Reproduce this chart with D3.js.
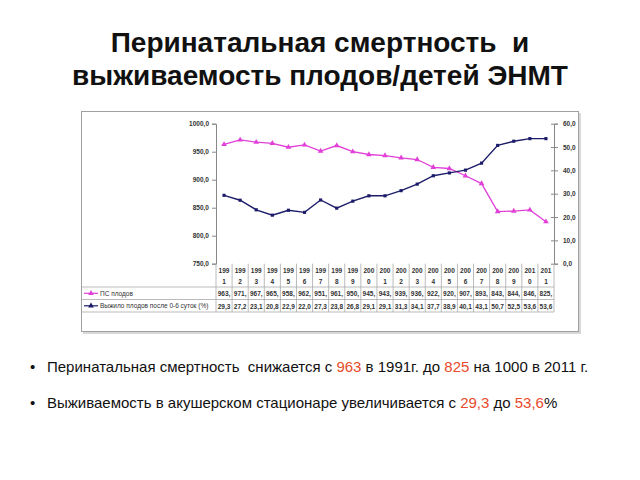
<!DOCTYPE html>
<html><head><meta charset="utf-8">
<script src="https://cdn.jsdelivr.net/npm/d3@7"></script>
<style>body{margin:0;background:#fff}svg{display:block}</style>
</head><body>
<svg id="c" width="640" height="480"></svg>
<script>
const years = ["1991","1992","1993","1994","1995","1996","1997","1998","1999","2000","2001","2002","2003","2004","2005","2006","2007","2008","2009","2010","2011"];
const psValues = [963,971,967,965,958,962,951,961,950,945,943,939,936,922,920,907,893,843,844,846,825];
const survValues = [29.3,27.2,23.1,20.8,22.9,22.0,27.3,23.8,26.8,29.1,29.1,31.3,34.1,37.7,38.9,40.1,43.1,50.7,52.5,53.6,53.6];
const seriesNames = ["ПС плодов","Выжило плодов после 0-6 суток (%)"];
const leftTicks = [750,800,850,900,950,1000];
const rightTicks = [0,10,20,30,40,50,60];
const titleLines = ["Перинатальная смертность  и","выживаемость плодов/детей ЭНМТ"];

const svg = d3.select("#c");
svg.append("rect").attr("width",640).attr("height",480).attr("fill","#fff");
const F = "'Liberation Sans', Arial, sans-serif";

// title
svg.selectAll("text.title").data(titleLines).enter().append("text")
  .attr("x",320).attr("y",(d,i)=>52+i*33).attr("text-anchor","middle").attr("xml:space","preserve")
  .attr("font-family",F).attr("font-weight","bold").attr("font-size",28).attr("fill","#111").text(d=>d);

// chart box
svg.append("rect").attr("x",83).attr("y",113).attr("width",498).attr("height",221).attr("fill","#d8d8d8");
svg.append("rect").attr("x",81.5).attr("y",111.5).attr("width",497).attr("height",220).attr("fill","#fff").attr("stroke","#a0a0a0");

const L = 216, R = 554, T = 123.7, B = 263.7;
const x = d3.scaleBand().domain(years).range([L,R]);
const yL = d3.scaleLinear().domain([750,1000]).range([B,T]);
const yR = d3.scaleLinear().domain([0,60]).range([B,T]);
const fmt = d => d3.format(".1f")(d).replace(".",",");

const axL = svg.append("g").attr("transform",`translate(${L},0)`)
  .call(d3.axisLeft(yL).tickValues(leftTicks).tickFormat(fmt).tickSize(4).tickPadding(3));
const axR = svg.append("g").attr("transform",`translate(${R},0)`)
  .call(d3.axisRight(yR).tickValues(rightTicks).tickFormat(fmt).tickSize(4).tickPadding(5));
axR.selectAll(".tick line").attr("x1",-3);
[axL,axR].forEach(a=>{
  a.select(".domain").attr("stroke","#888");
  a.selectAll(".tick line").attr("stroke","#888");
  a.selectAll("text").attr("font-family",F).attr("font-weight","bold").attr("font-size",6.5).attr("fill","#333");
});

const pink = "#e040d8", navy = "#1c1c6a";
const cx = d => x(d)+x.bandwidth()/2;
const lineL = d3.line().x((d,i)=>cx(years[i])).y(d=>yL(d));
const lineR = d3.line().x((d,i)=>cx(years[i])).y(d=>yR(d));
svg.append("path").attr("d",lineL(psValues)).attr("fill","none").attr("stroke",pink).attr("stroke-width",1.3);
svg.append("path").attr("d",lineR(survValues)).attr("fill","none").attr("stroke",navy).attr("stroke-width",1.4);
const tri = d3.symbol().type(d3.symbolTriangle).size(14);
svg.selectAll("path.mp").data(psValues).enter().append("path")
  .attr("transform",(d,i)=>`translate(${cx(years[i])},${yL(d)})`).attr("d",tri).attr("fill",pink);
svg.selectAll("path.mn").data(survValues).enter().append("path")
  .attr("transform",(d,i)=>`translate(${cx(years[i])},${yR(d)})`).attr("d",d3.symbol().type(d3.symbolSquare).size(10)).attr("fill",navy);

// data table
const tb = svg.append("g");
const rowY = [B, 287, 299.5, 312];
const gc = "#aaa";
years.forEach((y,i)=>{
  tb.append("line").attr("x1",x(y)).attr("x2",x(y)).attr("y1",B).attr("y2",rowY[3]).attr("stroke",gc).attr("stroke-width",0.8);
});
tb.append("line").attr("x1",R).attr("x2",R).attr("y1",B).attr("y2",rowY[3]).attr("stroke",gc).attr("stroke-width",0.8);
[1,2,3].forEach(k=>tb.append("line").attr("x1",81.5).attr("x2",R).attr("y1",rowY[k]).attr("y2",rowY[k]).attr("stroke",gc).attr("stroke-width",0.8));

const tf = s => s.attr("font-family",F).attr("font-weight","bold").attr("font-size",6.5).attr("fill","#333").attr("text-anchor","middle");
years.forEach((y,i)=>{
  tb.append("text").attr("x",cx(y)).attr("y",273).text(y.slice(0,3)).call(tf);
  tb.append("text").attr("x",cx(y)).attr("y",284).text(y.slice(3)).call(tf);
  tb.append("text").attr("x",cx(y)).attr("y",296).text(psValues[i]+",").call(tf);
  tb.append("text").attr("x",cx(y)).attr("y",308.5).text(d3.format(".1f")(survValues[i]).replace(".",",")).call(tf);
});
[[pink,293.3,0],[navy,305.8,1]].forEach(([c,yy,k])=>{
  tb.append("line").attr("x1",84).attr("x2",98).attr("y1",yy).attr("y2",yy).attr("stroke",c).attr("stroke-width",1.2);
  tb.append("path").attr("transform",`translate(91,${yy})`).attr("d",tri).attr("fill",c);
  tb.append("text").attr("x",100).attr("y",yy+2.3).text(seriesNames[k])
    .attr("font-family",F).attr("font-size",6.5).attr("fill","#333");
});

// bullets
const bullets = [
  [["Перинатальная смертность  снижается с ",0],["963",1],[" в 1991г. до ",0],["825",1],[" на 1000 в 2011 г.",0]],
  [["Выживаемость в акушерском стационаре увеличивается с ",0],["29,3",1],[" до ",0],["53,6",1],["%",0]]
];
bullets.forEach((parts,i)=>{
  const yy = 372+i*36;
  svg.append("text").attr("x",30).attr("y",yy).text("•").attr("font-family",F).attr("font-size",15).attr("fill","#111");
  const t = svg.append("text").attr("x",47).attr("y",yy).attr("font-family",F).attr("font-size",15).attr("fill","#111").attr("xml:space","preserve");
  parts.forEach(([s,r])=>t.append("tspan").text(s).attr("fill",r?"#e84a2c":"#111"));
});
</script>
</body></html>
